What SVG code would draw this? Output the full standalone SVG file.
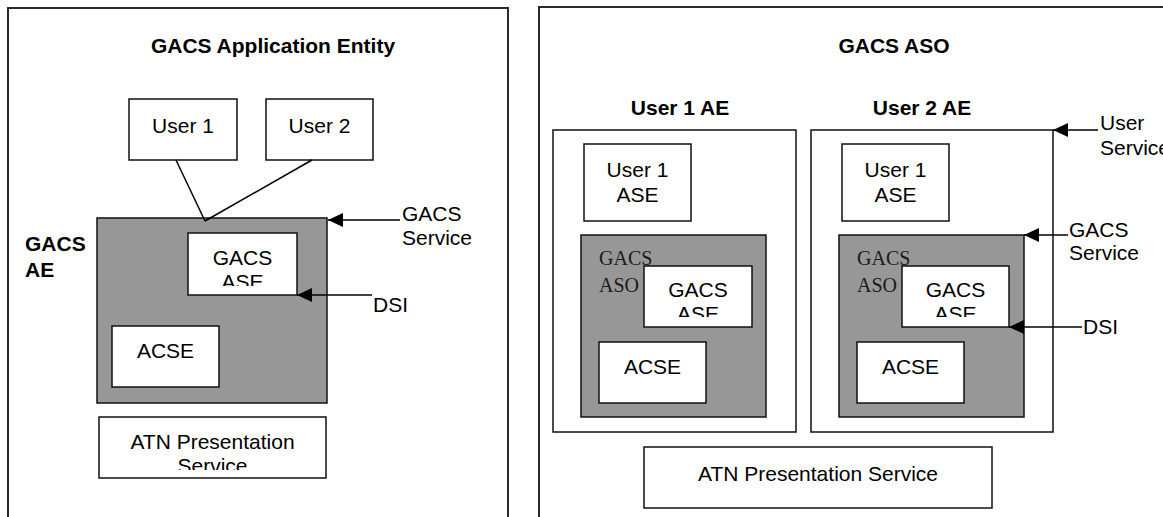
<svg xmlns="http://www.w3.org/2000/svg" width="1163" height="517" viewBox="0 0 1163 517">
  <defs>
    <style>
      .frame{fill:none;stroke:#2a2a2a;stroke-width:2}
      .box{fill:#fff;stroke:#111;stroke-width:1.5}
      .shade{fill:#979797;stroke:#111;stroke-width:1.5}
      .t{font-family:"Liberation Sans",Arial,sans-serif;font-size:21px;fill:#000}
      .c{text-anchor:middle}
      .b{font-weight:bold}
      .serif{font-family:"Liberation Serif","Times New Roman",serif;font-size:20px;fill:#1a1a1a}
      .link{stroke:#000;stroke-width:1.5;fill:none}
      .ptr{stroke:#000;stroke-width:1.5;fill:none;marker-end:url(#head)}
    </style>
    <marker id="head" viewBox="0 0 15 14" refX="15" refY="7" markerWidth="15" markerHeight="14" markerUnits="userSpaceOnUse" orient="auto">
      <path d="M0,0 L15,7 L0,14 z" fill="#000"/>
    </marker>
    <!-- labels that run past the bottom of their boxes are cut off there -->
    <clipPath id="clipAseA"><rect x="188" y="233" width="109" height="53"/></clipPath>
    <clipPath id="clipAtnA"><rect x="99" y="417" width="227" height="53"/></clipPath>
    <clipPath id="clipAseB"><rect x="644" y="266" width="108" height="51"/></clipPath>
    <clipPath id="clipAseC"><rect x="902" y="266" width="107" height="51"/></clipPath>
  </defs>

  <rect width="1163" height="517" fill="#fff"/>

  <!-- ===== Left panel: GACS Application Entity ===== -->
  <g id="panel-ae">
    <rect class="frame" x="8" y="8" width="500" height="530"/>
    <text class="t b c" x="273" y="53">GACS Application Entity</text>
  </g>
  <g id="gacs-ae-label">
    <text class="t b" x="25" y="251">GACS</text>
    <text class="t b" x="25" y="277">AE</text>
  </g>
  <g id="user1">
    <rect class="box" x="129" y="99" width="108" height="61"/>
    <text class="t c" x="183" y="133">User 1</text>
  </g>
  <g id="user2">
    <rect class="box" x="266" y="99" width="107" height="61"/>
    <text class="t c" x="319.5" y="133">User 2</text>
  </g>
  <g id="gacs-ae">
    <rect class="shade" x="97" y="218" width="230" height="185"/>
  </g>
  <g id="gacs-ase-a">
    <rect class="box" x="188" y="233" width="109" height="62"/>
    <text class="t c" x="242.5" y="265">GACS</text>
    <text class="t c" x="242.5" y="289" clip-path="url(#clipAseA)">ASE</text>
  </g>
  <g id="acse-a">
    <rect class="box" x="112" y="326" width="107" height="61"/>
    <text class="t c" x="165.5" y="358">ACSE</text>
  </g>
  <g id="atn-a">
    <rect class="box" x="99" y="417" width="227" height="61"/>
    <text class="t c" x="212.5" y="449">ATN Presentation</text>
    <text class="t c" x="212.5" y="473" clip-path="url(#clipAtnA)">Service</text>
  </g>
  <g id="labels-a">
    <text class="t" x="402" y="221">GACS</text>
    <text class="t" x="402" y="245">Service</text>
    <text class="t" x="373" y="312">DSI</text>
  </g>

  <!-- ===== Right panel: GACS ASO ===== -->
  <g id="panel-aso">
    <rect class="frame" x="539" y="7" width="700" height="530"/>
    <text class="t b c" x="894" y="53">GACS ASO</text>
  </g>
  <g id="user1-ae">
    <rect class="box" x="553" y="130" width="243" height="302"/>
    <text class="t b c" x="680" y="115">User 1 AE</text>
  </g>
  <g id="user2-ae">
    <rect class="box" x="811" y="130" width="242" height="302"/>
    <text class="t b c" x="922" y="115">User 2 AE</text>
  </g>
  <g id="user1-ase-b">
    <rect class="box" x="584" y="144" width="107" height="77"/>
    <text class="t c" x="637.5" y="177">User 1</text>
    <text class="t c" x="637.5" y="202">ASE</text>
  </g>
  <g id="user1-ase-c">
    <rect class="box" x="842" y="144" width="107" height="77"/>
    <text class="t c" x="895.5" y="177">User 1</text>
    <text class="t c" x="895.5" y="202">ASE</text>
  </g>
  <g id="gacs-aso-b">
    <rect class="shade" x="581" y="235" width="185" height="182"/>
    <text class="serif" x="599" y="265">GACS</text>
    <text class="serif" x="599" y="292">ASO</text>
  </g>
  <g id="gacs-aso-c">
    <rect class="shade" x="839" y="235" width="185" height="182"/>
    <text class="serif" x="857" y="265">GACS</text>
    <text class="serif" x="857" y="292">ASO</text>
  </g>
  <g id="gacs-ase-b">
    <rect class="box" x="644" y="266" width="108" height="61"/>
    <text class="t c" x="698" y="297">GACS</text>
    <text class="t c" x="698" y="321" clip-path="url(#clipAseB)">ASE</text>
  </g>
  <g id="gacs-ase-c">
    <rect class="box" x="902" y="266" width="107" height="61"/>
    <text class="t c" x="955.5" y="297">GACS</text>
    <text class="t c" x="955.5" y="321" clip-path="url(#clipAseC)">ASE</text>
  </g>
  <g id="acse-b">
    <rect class="box" x="599" y="342" width="107" height="61"/>
    <text class="t c" x="652.5" y="374">ACSE</text>
  </g>
  <g id="acse-c">
    <rect class="box" x="857" y="342" width="107" height="61"/>
    <text class="t c" x="910.5" y="374">ACSE</text>
  </g>
  <g id="atn-b">
    <rect class="box" x="644" y="447" width="348" height="61"/>
    <text class="t c" x="818" y="481">ATN Presentation Service</text>
  </g>
  <g id="labels-b">
    <text class="t" x="1100" y="130">User</text>
    <text class="t" x="1100" y="155">Service</text>
    <text class="t" x="1069" y="237">GACS</text>
    <text class="t" x="1069" y="260">Service</text>
    <text class="t" x="1083" y="334">DSI</text>
  </g>

  <!-- ===== Connectors ===== -->
  <g id="connectors">
    <line class="link" x1="176" y1="160" x2="205" y2="221"/>
    <line class="link" x1="312" y1="160" x2="205" y2="221"/>
    <line class="ptr" x1="400" y1="220" x2="328" y2="220"/>
    <line class="ptr" x1="372" y1="295" x2="297" y2="295"/>
    <line class="ptr" x1="1098" y1="130" x2="1053" y2="130"/>
    <line class="ptr" x1="1068" y1="235" x2="1024" y2="235"/>
    <line class="ptr" x1="1082" y1="327" x2="1009" y2="327"/>
  </g>
</svg>
